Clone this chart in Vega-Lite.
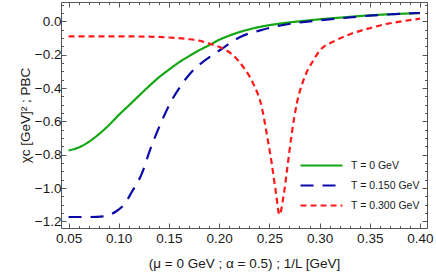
{
  "$schema": "https://vega.github.io/schema/vega-lite/v6.json",
  "width": 366,
  "height": 226,
  "autosize": {"type": "none"},
  "padding": {"left": 61, "top": 2, "right": 9, "bottom": 44},
  "config": {
    "view": {"stroke": "#555555", "strokeWidth": 1},
    "axis": {
      "grid": false,
      "domain": false,
      "labelFont": "Liberation Sans",
      "titleFont": "Liberation Sans",
      "labelFontSize": 13.5,
      "titleFontSize": 13.5,
      "titleFontWeight": "normal",
      "labelColor": "#1a1a1a",
      "titleColor": "#1a1a1a",
      "tickColor": "#555555",
      "tickWidth": 1
    },
    "legend": {
      "symbolType": "M-4,0H4",
      "symbolSize": 110,
      "symbolStrokeWidth": 2.2,
      "labelFont": "Liberation Sans",
      "labelFontSize": 10.5,
      "labelColor": "#1a1a1a",
      "labelOffset": 23,
      "rowPadding": 8,
      "padding": 0
    }
  },
  "data": {
    "values": [
      {"x": 0.05, "y": -0.775, "s": "T = 0 GeV"},
      {"x": 0.06, "y": -0.757, "s": "T = 0 GeV"},
      {"x": 0.07, "y": -0.724, "s": "T = 0 GeV"},
      {"x": 0.08, "y": -0.678, "s": "T = 0 GeV"},
      {"x": 0.09, "y": -0.624, "s": "T = 0 GeV"},
      {"x": 0.10, "y": -0.562, "s": "T = 0 GeV"},
      {"x": 0.11, "y": -0.505, "s": "T = 0 GeV"},
      {"x": 0.12, "y": -0.447, "s": "T = 0 GeV"},
      {"x": 0.13, "y": -0.39, "s": "T = 0 GeV"},
      {"x": 0.14, "y": -0.336, "s": "T = 0 GeV"},
      {"x": 0.15, "y": -0.29, "s": "T = 0 GeV"},
      {"x": 0.16, "y": -0.246, "s": "T = 0 GeV"},
      {"x": 0.17, "y": -0.209, "s": "T = 0 GeV"},
      {"x": 0.18, "y": -0.174, "s": "T = 0 GeV"},
      {"x": 0.19, "y": -0.143, "s": "T = 0 GeV"},
      {"x": 0.20, "y": -0.111, "s": "T = 0 GeV"},
      {"x": 0.21, "y": -0.086, "s": "T = 0 GeV"},
      {"x": 0.22, "y": -0.065, "s": "T = 0 GeV"},
      {"x": 0.23, "y": -0.048, "s": "T = 0 GeV"},
      {"x": 0.24, "y": -0.034, "s": "T = 0 GeV"},
      {"x": 0.26, "y": -0.014, "s": "T = 0 GeV"},
      {"x": 0.28, "y": 0.0, "s": "T = 0 GeV"},
      {"x": 0.30, "y": 0.012, "s": "T = 0 GeV"},
      {"x": 0.32, "y": 0.022, "s": "T = 0 GeV"},
      {"x": 0.35, "y": 0.036, "s": "T = 0 GeV"},
      {"x": 0.38, "y": 0.045, "s": "T = 0 GeV"},
      {"x": 0.40, "y": 0.05, "s": "T = 0 GeV"},

      {"x": 0.05, "y": -1.174, "s": "T = 0.150 GeV"},
      {"x": 0.07, "y": -1.174, "s": "T = 0.150 GeV"},
      {"x": 0.085, "y": -1.17, "s": "T = 0.150 GeV"},
      {"x": 0.09, "y": -1.162, "s": "T = 0.150 GeV"},
      {"x": 0.098, "y": -1.138, "s": "T = 0.150 GeV"},
      {"x": 0.106, "y": -1.094, "s": "T = 0.150 GeV"},
      {"x": 0.113, "y": -1.024, "s": "T = 0.150 GeV"},
      {"x": 0.123, "y": -0.914, "s": "T = 0.150 GeV"},
      {"x": 0.131, "y": -0.774, "s": "T = 0.150 GeV"},
      {"x": 0.141, "y": -0.624, "s": "T = 0.150 GeV"},
      {"x": 0.151, "y": -0.494, "s": "T = 0.150 GeV"},
      {"x": 0.161, "y": -0.394, "s": "T = 0.150 GeV"},
      {"x": 0.171, "y": -0.314, "s": "T = 0.150 GeV"},
      {"x": 0.181, "y": -0.257, "s": "T = 0.150 GeV"},
      {"x": 0.191, "y": -0.212, "s": "T = 0.150 GeV"},
      {"x": 0.201, "y": -0.172, "s": "T = 0.150 GeV"},
      {"x": 0.211, "y": -0.13, "s": "T = 0.150 GeV"},
      {"x": 0.221, "y": -0.094, "s": "T = 0.150 GeV"},
      {"x": 0.241, "y": -0.054, "s": "T = 0.150 GeV"},
      {"x": 0.26, "y": -0.026, "s": "T = 0.150 GeV"},
      {"x": 0.28, "y": -0.007, "s": "T = 0.150 GeV"},
      {"x": 0.30, "y": 0.006, "s": "T = 0.150 GeV"},
      {"x": 0.32, "y": 0.018, "s": "T = 0.150 GeV"},
      {"x": 0.35, "y": 0.034, "s": "T = 0.150 GeV"},
      {"x": 0.38, "y": 0.045, "s": "T = 0.150 GeV"},
      {"x": 0.40, "y": 0.05, "s": "T = 0.150 GeV"},

      {"x": 0.05, "y": -0.09, "s": "T = 0.300 GeV"},
      {"x": 0.10, "y": -0.09, "s": "T = 0.300 GeV"},
      {"x": 0.13, "y": -0.092, "s": "T = 0.300 GeV"},
      {"x": 0.15, "y": -0.097, "s": "T = 0.300 GeV"},
      {"x": 0.168, "y": -0.106, "s": "T = 0.300 GeV"},
      {"x": 0.18, "y": -0.116, "s": "T = 0.300 GeV"},
      {"x": 0.19, "y": -0.133, "s": "T = 0.300 GeV"},
      {"x": 0.201, "y": -0.156, "s": "T = 0.300 GeV"},
      {"x": 0.214, "y": -0.204, "s": "T = 0.300 GeV"},
      {"x": 0.224, "y": -0.274, "s": "T = 0.300 GeV"},
      {"x": 0.234, "y": -0.374, "s": "T = 0.300 GeV"},
      {"x": 0.2424, "y": -0.514, "s": "T = 0.300 GeV"},
      {"x": 0.2474, "y": -0.674, "s": "T = 0.300 GeV"},
      {"x": 0.2524, "y": -0.854, "s": "T = 0.300 GeV"},
      {"x": 0.2567, "y": -1.034, "s": "T = 0.300 GeV"},
      {"x": 0.26, "y": -1.16, "s": "T = 0.300 GeV"},
      {"x": 0.264, "y": -1.054, "s": "T = 0.300 GeV"},
      {"x": 0.268, "y": -0.874, "s": "T = 0.300 GeV"},
      {"x": 0.2723, "y": -0.674, "s": "T = 0.300 GeV"},
      {"x": 0.2773, "y": -0.494, "s": "T = 0.300 GeV"},
      {"x": 0.2839, "y": -0.354, "s": "T = 0.300 GeV"},
      {"x": 0.2938, "y": -0.234, "s": "T = 0.300 GeV"},
      {"x": 0.3005, "y": -0.174, "s": "T = 0.300 GeV"},
      {"x": 0.315, "y": -0.118, "s": "T = 0.300 GeV"},
      {"x": 0.3317, "y": -0.074, "s": "T = 0.300 GeV"},
      {"x": 0.3483, "y": -0.044, "s": "T = 0.300 GeV"},
      {"x": 0.365, "y": -0.018, "s": "T = 0.300 GeV"},
      {"x": 0.38, "y": -0.002, "s": "T = 0.300 GeV"},
      {"x": 0.40, "y": 0.016, "s": "T = 0.300 GeV"}
    ]
  },
  "layer": [
    {
      "mark": {"type": "line", "strokeWidth": 2.2, "interpolate": "monotone"},
      "encoding": {
        "x": {
          "field": "x", "type": "quantitative",
          "scale": {"domain": [0.0425, 0.407], "nice": false, "zero": false},
          "axis": {
            "orient": "bottom",
            "values": [0.05, 0.10, 0.15, 0.20, 0.25, 0.30, 0.35, 0.40],
            "format": ".2f",
            "tickSize": -5,
            "labelPadding": 8,
            "title": "(μ = 0 GeV ; α = 0.5) ; 1/L [GeV]",
            "titlePadding": 12
          }
        },
        "y": {
          "field": "y", "type": "quantitative",
          "scale": {"domain": [-1.24, 0.116], "nice": false, "zero": false},
          "axis": {
            "orient": "left",
            "values": [-1.2, -1.0, -0.8, -0.6, -0.4, -0.2, 0.0],
            "format": ".1f",
            "tickSize": -5,
            "labelPadding": 5,
            "title": "χᴄ [GeV]² ; PBC",
            "titlePadding": 2
          }
        },
        "color": {
          "field": "s", "type": "nominal",
          "scale": {"domain": ["T = 0 GeV", "T = 0.150 GeV", "T = 0.300 GeV"], "range": ["#12a612", "#0a0aa8", "#ff1a1a"]},
          "legend": {"title": null, "orient": "none", "legendX": 254, "legendY": 157}
        },
        "strokeDash": {
          "field": "s", "type": "nominal",
          "scale": {"domain": ["T = 0 GeV", "T = 0.150 GeV", "T = 0.300 GeV"], "range": [[1, 0], [13, 9], [6, 4]]},
          "legend": {"title": null, "orient": "none", "legendX": 254, "legendY": 157}
        }
      }
    },
    {
      "mark": {"type": "point", "opacity": 0, "size": 0},
      "encoding": {
        "x": {
          "field": "x", "type": "quantitative",
          "scale": {"domain": [0.0425, 0.407], "nice": false, "zero": false},
          "axis": {
            "orient": "bottom",
            "values": [0.05, 0.06, 0.07, 0.08, 0.09, 0.11, 0.12, 0.13, 0.14, 0.16, 0.17, 0.18, 0.19, 0.21, 0.22, 0.23, 0.24, 0.26, 0.27, 0.28, 0.29, 0.31, 0.32, 0.33, 0.34, 0.36, 0.37, 0.38, 0.39],
            "labels": false, "tickSize": -2.5, "title": null
          }
        },
        "y": {
          "field": "y", "type": "quantitative",
          "scale": {"domain": [-1.24, 0.116], "nice": false, "zero": false},
          "axis": {
            "orient": "left",
            "values": [-1.15, -1.1, -1.05, -0.95, -0.9, -0.85, -0.75, -0.7, -0.65, -0.55, -0.5, -0.45, -0.35, -0.3, -0.25, -0.15, -0.1, -0.05, 0.05, 0.1],
            "labels": false, "tickSize": -2.5, "title": null
          }
        }
      }
    },
    {
      "mark": {"type": "point", "opacity": 0, "size": 0},
      "encoding": {
        "x": {
          "field": "x", "type": "quantitative",
          "scale": {"domain": [0.0425, 0.407], "nice": false, "zero": false},
          "axis": {
            "orient": "top",
            "values": [0.05, 0.10, 0.15, 0.20, 0.25, 0.30, 0.35, 0.40],
            "labels": false, "tickSize": -5, "title": null
          }
        },
        "y": {
          "field": "y", "type": "quantitative",
          "scale": {"domain": [-1.24, 0.116], "nice": false, "zero": false},
          "axis": {
            "orient": "right",
            "values": [-1.2, -1.0, -0.8, -0.6, -0.4, -0.2, 0.0],
            "labels": false, "tickSize": -5, "title": null
          }
        }
      }
    },
    {
      "mark": {"type": "point", "opacity": 0, "size": 0},
      "encoding": {
        "x": {
          "field": "x", "type": "quantitative",
          "scale": {"domain": [0.0425, 0.407], "nice": false, "zero": false},
          "axis": {
            "orient": "top",
            "values": [0.05, 0.06, 0.07, 0.08, 0.09, 0.11, 0.12, 0.13, 0.14, 0.16, 0.17, 0.18, 0.19, 0.21, 0.22, 0.23, 0.24, 0.26, 0.27, 0.28, 0.29, 0.31, 0.32, 0.33, 0.34, 0.36, 0.37, 0.38, 0.39],
            "labels": false, "tickSize": -2.5, "title": null
          }
        },
        "y": {
          "field": "y", "type": "quantitative",
          "scale": {"domain": [-1.24, 0.116], "nice": false, "zero": false},
          "axis": {
            "orient": "right",
            "values": [-1.15, -1.1, -1.05, -0.95, -0.9, -0.85, -0.75, -0.7, -0.65, -0.55, -0.5, -0.45, -0.35, -0.3, -0.25, -0.15, -0.1, -0.05, 0.05, 0.1],
            "labels": false, "tickSize": -2.5, "title": null
          }
        }
      }
    }
  ],
  "resolve": {"axis": {"x": "independent", "y": "independent"}}
}
